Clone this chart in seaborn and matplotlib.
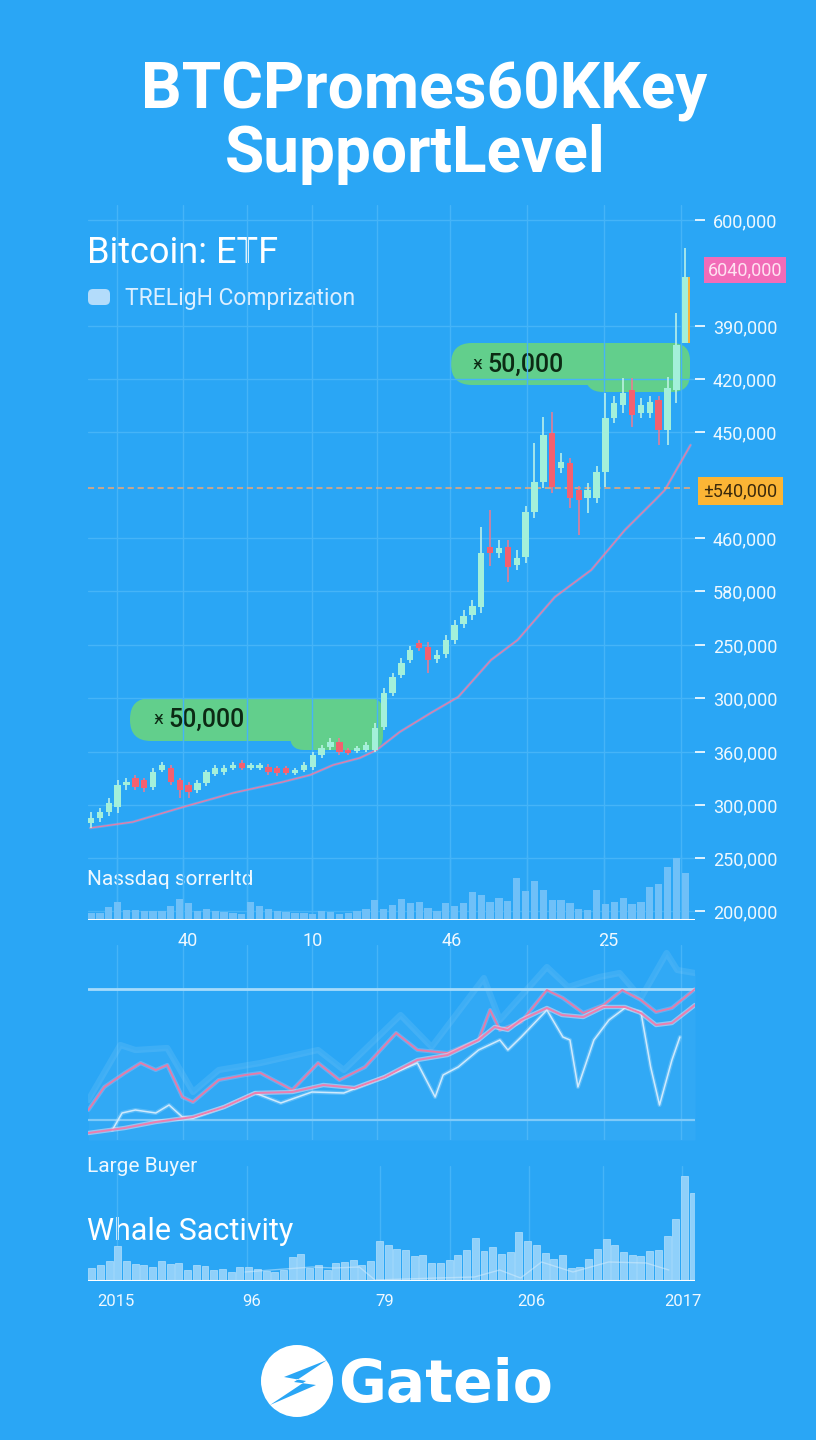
import numpy as np
import seaborn as sns
import matplotlib.pyplot as plt
from matplotlib.patches import FancyBboxPatch, Circle, Polygon

# ---- values ----
# top chart: candles in a price index (0 = volume baseline)
c_open = [95, 100, 106, 111, 133, 140, 138, 131, 148, 150,
          138, 133, 128, 135, 144, 146, 150, 155, 150, 150,
          151, 150, 150, 145, 148, 151, 163, 171, 176, 168,
          167, 168, 168, 191, 225, 243, 258, 275, 271, 259,
          264, 278, 294, 303, 311, 371, 365, 371, 353, 361,
          406, 436, 485, 450, 455, 428, 420, 420, 446, 500,
          513, 528, 505, 505, 518, 488, 528, 575]
c_close = [100, 106, 115, 133, 136, 131, 130, 146, 153, 136,
           128, 126, 135, 146, 150, 150, 153, 150, 153, 153,
           146, 145, 145, 148, 153, 163, 170, 176, 166, 165,
           170, 173, 190, 225, 241, 255, 268, 270, 258, 263,
           278, 293, 302, 312, 365, 365, 370, 351, 360, 406,
           436, 483, 431, 456, 420, 418, 428, 446, 500, 515,
           525, 503, 513, 516, 488, 530, 573, 641]
c_high = [106, 110, 120, 138, 140, 143, 140, 150, 156, 153,
          140, 136, 138, 148, 153, 153, 156, 158, 155, 155,
          154, 152, 152, 150, 156, 166, 173, 180, 180, 170,
          172, 176, 195, 230, 245, 260, 272, 278, 276, 268,
          283, 298, 308, 318, 391, 408, 378, 378, 368, 412,
          475, 501, 506, 465, 460, 432, 435, 452, 525, 522,
          540, 540, 520, 522, 522, 541, 605, 670]
c_low = [90, 96, 102, 105, 128, 128, 126, 128, 146, 133,
         120, 120, 125, 132, 142, 143, 148, 148, 148, 148,
         143, 142, 143, 143, 146, 148, 160, 168, 163, 163,
         165, 166, 166, 188, 222, 240, 255, 267, 245, 255,
         260, 274, 290, 298, 305, 352, 360, 336, 348, 355,
         400, 430, 425, 445, 410, 383, 405, 415, 431, 495,
         505, 491, 500, 500, 473, 473, 515, 575]

ma_x = [-0.1, 4.7, 10.4, 16.0, 21.6, 24.7, 27.3, 30.3, 32.2, 34.8,
        38.3, 41.4, 45.1, 48.1, 52.3, 56.4, 60.2, 63.6, 64.7, 67.6]
ma_y = [90, 96, 111, 125, 136, 143, 153, 160, 168, 186,
        205, 221, 258, 278, 321, 348, 388, 418, 428, 473]

volume = [7, 7, 13, 18, 10, 10, 9, 9, 9, 14, 21, 17, 9, 11, 9, 8, 7, 6,
          18, 14, 11, 9, 8, 7, 7, 6, 9, 8, 6, 7, 9, 11, 20, 11, 15, 21,
          17, 18, 12, 9, 17, 14, 17, 28, 25, 18, 22, 19, 42, 29, 39, 30,
          20, 20, 17, 11, 10, 30, 16, 18, 22, 16, 18, 33, 36, 53, 62, 47]

price_ticks = [698, 592, 539, 486, 380, 327, 273, 220, 166, 113, 60, 7]
price_labels = ["600,000", "390,000", "420,000", "450,000", "460,000", "580,000",
                "250,000", "300,000", "360,000", "300,000", "250,000", "200,000"]
pink_tag = (648, "6040,000")
orange_tag = (427, "±540,000")
support_level = 430

x_label_pos = [10.9, 25.0, 40.7, 58.3]
x_labels = ["40", "10", "46", "25"]
grid_pos = [2.9, 10.4, 17.6, 24.9, 32.2, 40.5, 49.2, 57.8, 66.5]

# middle chart: buyer lines
low_x = [-0.3, 3.8, 7.3, 11.5, 15.0, 18.5, 22.7, 26.2, 29.7, 33.1, 36.8, 40.2, 43.7,
         45.5, 47.0, 48.5, 51.4, 53.1, 55.5, 57.8, 60.2, 62.0, 63.7, 65.5, 68.1]
low_y = [7, 12, 18, 23, 33, 47, 48, 55, 52, 63, 80, 85, 100,
         113, 110, 120, 132, 125, 123, 133, 133, 127, 115, 117, 135]
up_x = [-0.3, 1.5, 3.8, 5.6, 7.3, 8.6, 10.3, 11.5, 14.4, 17.4, 19.1, 22.7, 25.6, 28.0,
        30.9, 34.4, 36.8, 40.2, 43.7, 45.0, 46.1, 48.5, 51.4, 53.2, 55.5, 57.8, 59.9,
        62.0, 63.7, 65.5, 68.1]
up_y = [30, 53, 67, 77, 70, 75, 43, 38, 60, 65, 67, 50, 77, 60,
        73, 107, 90, 87, 100, 130, 110, 118, 150, 142, 127, 135, 150,
        140, 128, 132, 151]
light_x = [2.4, 3.5, 5.0, 7.3, 8.8, 10.3, 11.5, 15.0, 18.5, 21.4, 24.9, 28.5, 33.1,
           36.8, 38.8, 39.7, 41.4, 43.7, 46.1, 47.0, 48.5, 51.4, 53.2, 54.0, 54.9,
           56.7, 58.4, 60.2, 62.0, 63.1, 64.1, 65.5, 66.4]
light_y = [10, 27, 30, 27, 35, 23, 22, 33, 47, 37, 48, 47, 63,
           77, 43, 65, 73, 90, 100, 90, 103, 130, 103, 100, 53,
           100, 120, 132, 128, 73, 35, 80, 103]
band_x = [-0.3, 3.3, 5.0, 8.6, 11.5, 14.4, 19.1, 25.6, 28.5, 34.9, 38.4,
          44.3, 46.1, 51.4, 53.8, 57.3, 59.6, 62.0, 64.9, 66.1, 68.1]
band_y = [40, 95, 90, 92, 48, 70, 77, 90, 70, 125, 93,
          162, 120, 173, 153, 163, 167, 142, 187, 170, 167]
ref_hi, ref_lo = 151, 20

# bottom chart: whale activity
whale = [13, 16, 20, 35, 20, 17, 16, 14, 20, 17, 18, 11, 16, 15, 11, 12, 9, 14,
         14, 12, 10, 9, 11, 24, 27, 13, 16, 11, 18, 19, 21, 16, 20, 40, 36, 32,
         31, 25, 26, 18, 18, 21, 26, 31, 43, 30, 34, 27, 29, 49, 40, 36, 28, 22,
         26, 13, 14, 22, 32, 42, 36, 29, 26, 25, 30, 31, 45, 62, 105, 88]
whale_tx = [17.6, 20.6, 25.3, 27.7, 30.7, 32.5, 39.6, 43.9, 46.8, 49.2, 51.6,
            55.2, 59.3, 63.6, 66.2]
whale_ty = [9, 11, 14, 13, 14, 1, 3, 4, 11, 3, 19, 9, 19, 18, 11]
w_label_pos = [2.8, 18.4, 33.6, 50.4, 67.8]
w_labels = ["2015", "96", "79", "206", "2017"]
w_grid_pos = [2.9, 17.8, 33.1, 41.1, 50.2, 58.7, 67.7]

# ---- style ----
BG = "#2aa6f5"
GRID = "#45b4f8"
GREEN = "#a3f0da"
RED = "#f4606f"
PINK = "#ea7aa6"
CALLOUT = "#62cf8c"
TXT = "#eef8ff"

sns.set_theme(style="white")
plt.rcParams["font.family"] = ["Roboto", "DejaVu Sans"]

fig = plt.figure(figsize=(8.16, 14.4), dpi=100)
fig.patch.set_facecolor(BG)


def px_rect(x0, y0, x1, y1):
    return [x0 / 816, 1 - y1 / 1440, (x1 - x0) / 816, (y1 - y0) / 1440]


bg = fig.add_axes([0, 0, 1, 1], zorder=0)
bg.set_xlim(0, 816)
bg.set_ylim(1440, 0)
bg.axis("off")

ax = fig.add_axes(px_rect(88, 205, 695, 918), zorder=2)
ax_vol = fig.add_axes(px_rect(88, 855, 695, 920), zorder=2, sharex=ax)
ax_mid = fig.add_axes(px_rect(88, 945, 695, 1140), zorder=2, sharex=ax)
ax_wh = fig.add_axes(px_rect(88, 1166, 695, 1281), zorder=2)

for a in (ax, ax_vol, ax_mid, ax_wh):
    a.set_facecolor("none")
    for s in a.spines.values():
        s.set_visible(False)
    a.set_axisbelow(True)

# ---- top: candles ----
x = np.arange(len(c_open))
o = np.array(c_open)
c = np.array(c_close)
up = c >= o
cols = np.where(up, GREEN, RED)
ax.vlines(x, c_low, c_high, colors=np.where(up, "#c4f6e8", "#f2798f"), lw=1.1, zorder=3)
ax.bar(x, np.maximum(np.abs(c - o), 2.5), bottom=np.minimum(o, c), width=0.72,
       color=cols, edgecolor="none", lw=0, zorder=4)
ax.bar(x[-1] + 0.45, c[-1] - o[-1], bottom=o[-1], width=0.2, color="#f7b23b",
       edgecolor="none", lw=0, zorder=4)

sns.lineplot(x=ma_x, y=ma_y, ax=ax, color="#f4b9d0", lw=2.0, alpha=0.25, zorder=2)
sns.lineplot(x=ma_x, y=ma_y, ax=ax, color=PINK, lw=0.9, zorder=2)
ax.hlines(support_level, -0.3, 67.7, colors="#f2a772", linestyles=(0, (4, 2.5)), lw=1.1, zorder=2)

ax.set_xlim(-0.34, 68.1)
ax.set_ylim(0, 713)
ax.yaxis.tick_right()
ax.set_yticks(price_ticks, price_labels)
ax.tick_params(axis="y", length=7, width=1.3, color=TXT, pad=6, labelsize=13, labelcolor=TXT)
ax.tick_params(axis="x", which="both", length=0, labelbottom=False)
ax.grid(True, color=GRID, lw=1)

ax.text(1.082, pink_tag[0], pink_tag[1], transform=ax.get_yaxis_transform(),
        ha="center", va="center", fontsize=13, color="#ffe3f1", clip_on=False,
        bbox=dict(boxstyle="square,pad=0.22", fc="#f26cb8", ec="none"))
ax.text(1.075, orange_tag[0], orange_tag[1], transform=ax.get_yaxis_transform(),
        ha="center", va="center", fontsize=13, color="#3b2a0c", clip_on=False,
        bbox=dict(boxstyle="square,pad=0.3", fc="#fbb535", ec="none"))

# volume strip
ax_vol.bar(x, volume, width=0.82, color="#6fc0f8", edgecolor="none", lw=0)
ax_vol.axhline(0, color="white", lw=2.2)
ax_vol.set_ylim(0, 65)
ax_vol.set_yticks([])
ax_vol.set_xticks(grid_pos, [""] * len(grid_pos))
ax_vol.set_xticks(x_label_pos, x_labels, minor=True)
ax_vol.tick_params(axis="x", which="major", length=5, width=1, color="white", direction="out")
ax_vol.tick_params(axis="x", which="minor", length=0, pad=9, labelsize=13, labelcolor=TXT)
ax_vol.grid(True, axis="x", color=GRID, lw=1)

# ---- middle: buyer lines ----
ax_mid.fill_between(band_x, band_y, 0, color="white", alpha=0.035, lw=0)
sns.lineplot(x=band_x, y=band_y, ax=ax_mid, color="#bfe4fc", lw=4.5, alpha=0.13)
ax_mid.axhline(ref_hi, color="#a6dbfb", lw=2)
ax_mid.axhline(ref_lo, color="#7fcaf9", lw=1.6)
sns.lineplot(x=up_x, y=up_y, ax=ax_mid, color="#d8c6f0", lw=3, alpha=0.3)
sns.lineplot(x=up_x, y=up_y, ax=ax_mid, color=PINK, lw=1.3)
sns.lineplot(x=light_x, y=light_y, ax=ax_mid, color="#d6eefd", lw=3, alpha=0.25)
sns.lineplot(x=light_x, y=light_y, ax=ax_mid, color="#cfeafd", lw=1.1)
sns.lineplot(x=low_x, y=low_y, ax=ax_mid, color="#f2e4f4", lw=3.2, alpha=0.5)
sns.lineplot(x=low_x, y=low_y, ax=ax_mid, color="#ee7eae", lw=1.4)
ax_mid.set_ylim(0, 195)
ax_mid.set_yticks([])
ax_mid.tick_params(axis="x", which="both", length=0, labelbottom=False)
ax_mid.grid(True, axis="x", color=GRID, lw=1)

# ---- bottom: whale activity ----
wx = np.arange(len(whale))
ax_wh.bar(wx, whale, width=0.8, color="#8fd0fa", edgecolor="#b4e0fc", lw=0.5)
sns.lineplot(x=whale_tx, y=whale_ty, ax=ax_wh, color="#d8eefd", lw=1, alpha=0.5)
ax_wh.axhline(0, color="white", lw=2.2)
ax_wh.set_xlim(-0.42, 69.2)
ax_wh.set_ylim(0, 115)
ax_wh.set_yticks([])
ax_wh.set_xticks(w_grid_pos, [""] * len(w_grid_pos))
ax_wh.set_xticks(w_label_pos, w_labels, minor=True)
ax_wh.tick_params(axis="x", which="major", length=5, width=1, color="white", direction="out")
ax_wh.tick_params(axis="x", which="minor", length=0, pad=9, labelsize=12, labelcolor=TXT)
ax_wh.grid(True, axis="x", color=GRID, lw=1)

# ---- texts and decorations ----
bg.text(424, 108, "BTCPromes60KKey", ha="center", va="baseline", fontsize=46,
        weight="bold", color="white")
bg.text(415, 172, "SupportLevel", ha="center", va="baseline", fontsize=46,
        weight="bold", color="white")
bg.text(87, 263, "Bitcoin: ETF", va="baseline", fontsize=26, color="white")
bg.add_patch(FancyBboxPatch((88, 289), 22, 16, boxstyle="round,pad=0,rounding_size=5",
                            fc="#b3dcfb", ec="none"))
bg.text(125, 305, "TRELigH Comprization", va="baseline", fontsize=16.5, color="#dcefff")
bg.text(87, 885, "Nassdaq sorrerltd", va="baseline", fontsize=15, color=TXT)
bg.text(87, 1172, "Large Buyer", va="baseline", fontsize=15, color=TXT)
bg.text(87, 1240, "Whale Sactivity", va="baseline", fontsize=22, color="white")

# callout bubbles
for (bx, by, bw, bh, r) in [(451, 343, 239, 42, 21), (585, 343, 105, 49, 18),
                            (130, 698, 253, 43, 21), (290, 698, 93, 52, 14)]:
    bg.add_patch(FancyBboxPatch((bx, by), bw, bh,
                                boxstyle=f"round,pad=0,rounding_size={r}",
                                fc=CALLOUT, ec="none"))
bg.text(477, 364, "ӿ", ha="center", va="center", fontsize=12, color="#0c2a14",
        family=["DejaVu Sans"])
bg.text(487, 372, "50,000", va="baseline", fontsize=18, color="#0c2a14", weight="medium")
bg.text(158, 719, "ӿ", ha="center", va="center", fontsize=12, color="#0c2a14",
        family=["DejaVu Sans"])
bg.text(168, 727, "50,000", va="baseline", fontsize=18, color="#0c2a14", weight="medium")

# logo
bg.add_patch(Circle((297, 1381), 36, fc="white", ec="none"))
bg.add_patch(Polygon([(327, 1360), (284, 1377), (306, 1381), (270, 1405),
                      (316, 1385), (294, 1382)], closed=True, fc=BG, ec="none"))
bg.text(338, 1402, "Gateio", va="baseline", fontsize=42, weight="bold", color="white",
        family=["DejaVu Sans"])

fig.savefig("out.png", dpi=100, facecolor=BG)
